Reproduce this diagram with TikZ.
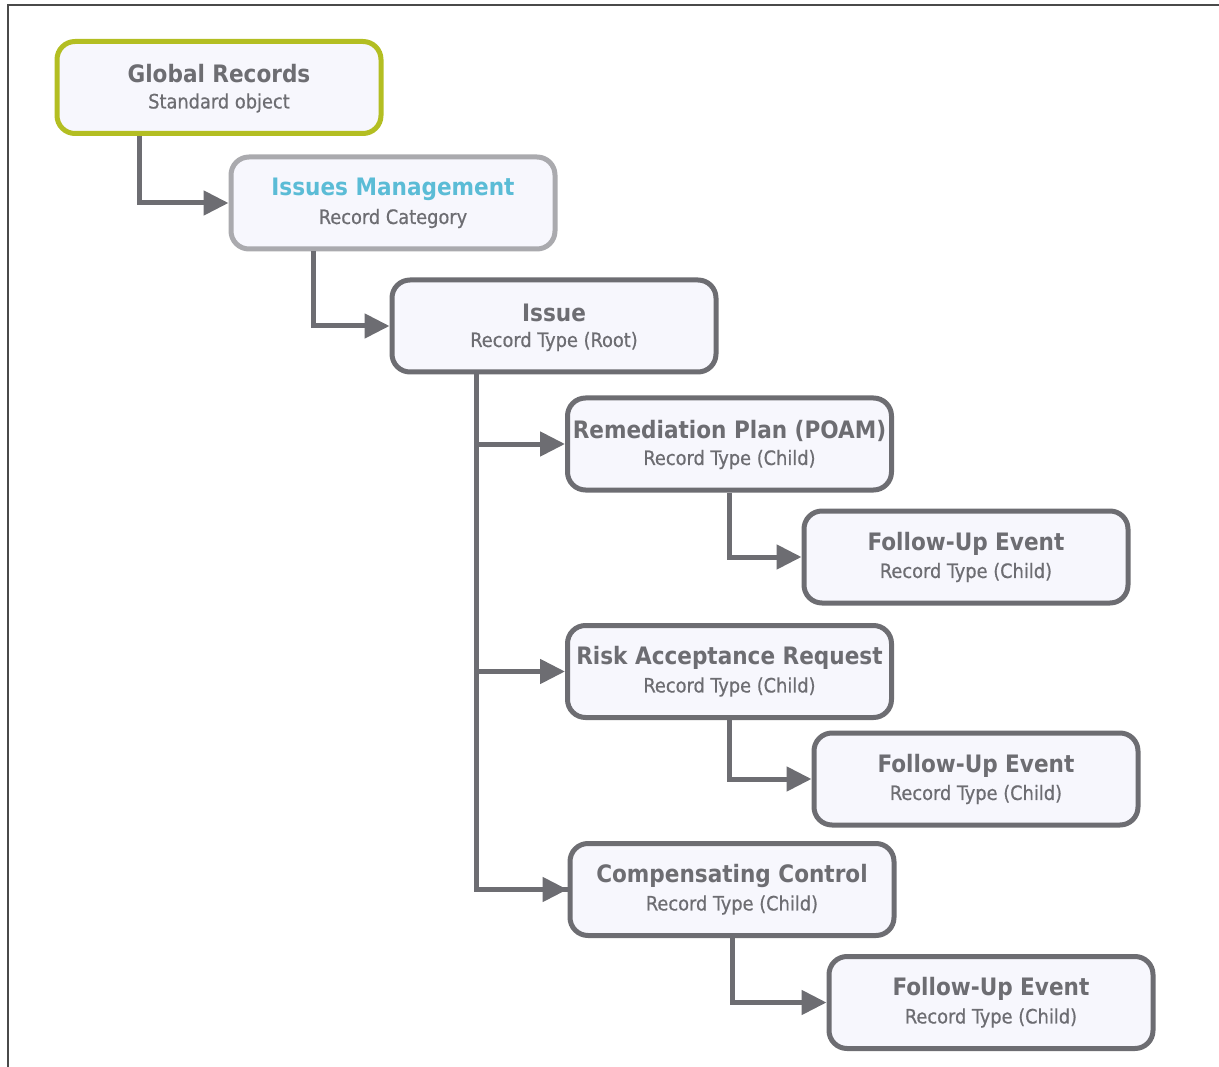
\documentclass[tikz,border=0pt]{standalone}
\usepackage{fontspec}
\setmainfont{DejaVu Sans Condensed}
\newfontfamily\subfnt[FakeBold=0.6]{DejaVu Sans Condensed}
\usetikzlibrary{arrows.meta,positioning}
\definecolor{boxfill}{HTML}{F7F7FD}
\definecolor{darkgr}{HTML}{6D6D72}
\definecolor{lightgr}{HTML}{AAAAAE}
\definecolor{olive}{HTML}{B3BE22}
\definecolor{teal}{HTML}{5BBCD6}
\definecolor{framegr}{HTML}{4A4A4A}
\tikzset{
  x=1pt,y=-1pt,
  box/.style={draw=darkgr,fill=boxfill,line width=5pt,rounded corners=18pt,
    minimum width=324pt,minimum height=92pt,inner sep=0pt},
  ttl/.style={text=darkgr,font=\fontsize{24}{28}\selectfont\bfseries,inner sep=0pt},
  sub/.style={text=darkgr,font=\subfnt\fontsize{19.8}{23}\selectfont,inner sep=0pt},
  conn/.style={draw=darkgr,line width=5pt,-{Triangle[length=25pt,width=24pt]}},
  trunk/.style={draw=darkgr,line width=5pt}
}
\begin{document}
\begin{tikzpicture}
\useasboundingbox (0,0) rectangle (1219,1067);
\draw[framegr,line width=2pt] (8,1067) -- (8,5) -- (1219,5);

\node[box,draw=olive] (gr) at (219,87.5) {};
\node[box,draw=lightgr] (im) at (393,203) {};
\node[box] (is) at (554,326) {};
\node[box] (rp) at (729.5,444) {};
\node[box] (f1) at (966,557) {};
\node[box] (rar) at (729.5,671.5) {};
\node[box] (f2) at (976,779) {};
\node[box] (cc) at (732,889.5) {};
\node[box] (f3) at (991,1002.5) {};

\node[ttl] (grt) at ([yshift=13.5pt]gr.center) {Global Records};
\node[sub] (grs) at ([yshift=-15.5pt]gr.center) {Standard object};
\node[ttl,text=teal] (imt) at ([yshift=13.5pt]im.center) {Issues Management};
\node[sub] (ims) at ([yshift=-15.5pt]im.center) {Record Category};
\node[ttl] (ist) at ([yshift=13.5pt]is.center) {Issue};
\node[sub] (iss) at ([yshift=-15.5pt]is.center) {Record Type (Root)};
\node[ttl] (rpt) at ([yshift=13.5pt]rp.center) {Remediation Plan (POAM)};
\node[sub] (rps) at ([yshift=-15.5pt]rp.center) {Record Type (Child)};
\node[ttl] (f1t) at ([yshift=13.5pt]f1.center) {Follow-Up Event};
\node[sub] (f1s) at ([yshift=-15.5pt]f1.center) {Record Type (Child)};
\node[ttl] (rart) at ([yshift=13.5pt]rar.center) {Risk Acceptance Request};
\node[sub] (rars) at ([yshift=-15.5pt]rar.center) {Record Type (Child)};
\node[ttl] (f2t) at ([yshift=13.5pt]f2.center) {Follow-Up Event};
\node[sub] (f2s) at ([yshift=-15.5pt]f2.center) {Record Type (Child)};
\node[ttl] (cct) at ([yshift=13.5pt]cc.center) {Compensating Control};
\node[sub] (ccs) at ([yshift=-15.5pt]cc.center) {Record Type (Child)};
\node[ttl] (f3t) at ([yshift=13.5pt]f3.center) {Follow-Up Event};
\node[sub] (f3s) at ([yshift=-15.5pt]f3.center) {Record Type (Child)};

\coordinate (gra) at ([xshift=-80pt]gr.south);
\coordinate (ima) at ([xshift=-80pt]im.south);
\coordinate (isa) at ([xshift=-78pt]is.south);
\draw[conn] (gra) |- (im.west);
\draw[conn] (ima) |- (is.west);
\draw[trunk] (isa) |- (cc.west);
\draw[conn] (isa) |- (rp.west);
\draw[conn] (isa) |- (rar.west);
\draw[conn] (isa) |- (cc.west);
\draw[conn] (rp.south) |- (f1.west);
\draw[conn] (rar.south) |- (f2.west);
\draw[conn] (cc.south) |- (f3.west);
\end{tikzpicture}
\end{document}
